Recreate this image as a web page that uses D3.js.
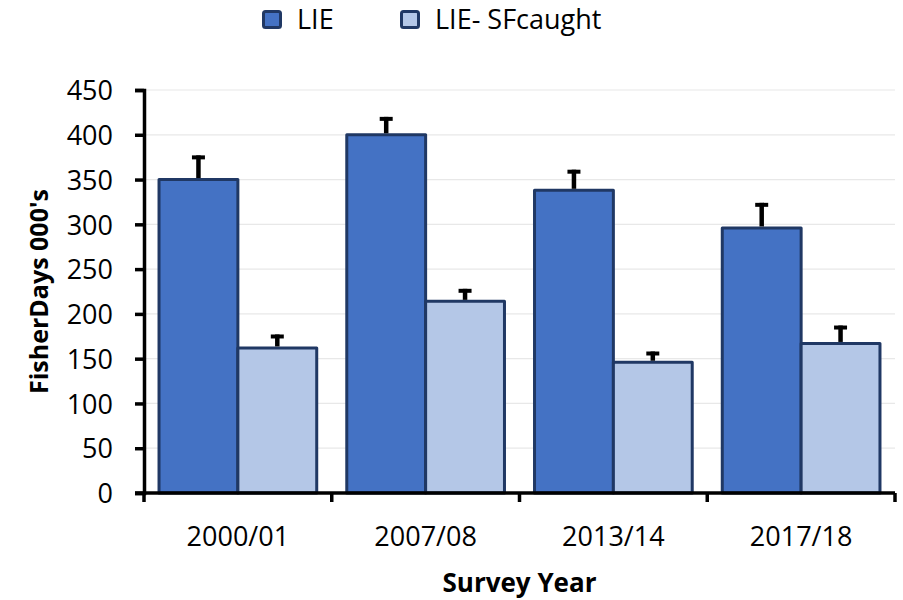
<!DOCTYPE html>
<html>
<head>
<meta charset="utf-8">
<script src="https://cdn.jsdelivr.net/npm/d3@7"></script>
<style>
  body { margin: 0; background: #fff; }
  text { font-family: "Open Sans", "Liberation Sans", sans-serif; fill: #000; }
</style>
</head>
<body>
<div id="chart"></div>
<script>
// data
var years = ["2000/01", "2007/08", "2013/14", "2017/18"];
var seriesNames = ["LIE", "LIE- SFcaught"];
var lieValues = [350, 400, 338, 296];
var lieErrors = [27, 20, 23, 28];
var sfValues = [162, 214, 146, 167];
var sfErrors = [15, 14, 12, 20];
var yTicks = [0, 50, 100, 150, 200, 250, 300, 350, 400, 450];

var colors = ["#4472C4", "#B4C7E7"];
var edge = "#203864";

var W = 903, H = 600;
var margin = { left: 144, right: 8, top: 90, bottom: 107 };
var plotW = W - margin.left - margin.right;
var plotH = H - margin.top - margin.bottom;

var svg = d3.select("#chart").append("svg")
    .attr("width", W)
    .attr("height", H);

var g = svg.append("g")
    .attr("transform", "translate(" + margin.left + "," + margin.top + ")");

var x0 = d3.scaleBand().domain(years).range([0, plotW]).paddingInner(0.16).paddingOuter(0.08);
var x1 = d3.scaleBand().domain([0, 1]).range([0, x0.bandwidth()]);
var y = d3.scaleLinear().domain([0, 450]).range([plotH, 0]);

// gridlines
g.selectAll(".grid")
    .data(yTicks.slice(1))
    .enter().append("line")
    .attr("x1", 0).attr("x2", plotW)
    .attr("y1", function (d) { return y(d); })
    .attr("y2", function (d) { return y(d); })
    .attr("stroke", "#e8e8e8")
    .attr("stroke-width", 1.2);

// bars + error bars, one group per year
var rows = years.map(function (yr, i) {
    return [
        { year: yr, s: 0, v: lieValues[i], e: lieErrors[i] },
        { year: yr, s: 1, v: sfValues[i], e: sfErrors[i] }
    ];
});

var grp = g.selectAll(".year")
    .data(rows)
    .enter().append("g")
    .attr("transform", function (d) { return "translate(" + x0(d[0].year) + ",0)"; });

grp.selectAll("rect")
    .data(function (d) { return d; })
    .enter().append("rect")
    .attr("x", function (d) { return x1(d.s); })
    .attr("y", function (d) { return y(d.v); })
    .attr("width", x1.bandwidth())
    .attr("height", function (d) { return plotH - y(d.v); })
    .attr("fill", function (d) { return colors[d.s]; })
    .attr("stroke", edge)
    .attr("stroke-width", 3)
    .attr("stroke-linejoin", "round");

var errs = grp.selectAll(".err")
    .data(function (d) { return d; })
    .enter().append("g");

errs.append("line")
    .attr("x1", function (d) { return x1(d.s) + x1.bandwidth() / 2; })
    .attr("x2", function (d) { return x1(d.s) + x1.bandwidth() / 2; })
    .attr("y1", function (d) { return y(d.v) - 1.5; })
    .attr("y2", function (d) { return y(d.v + d.e); })
    .attr("stroke", "#000")
    .attr("stroke-width", 4.5);

errs.append("line")
    .attr("x1", function (d) { return x1(d.s) + x1.bandwidth() / 2 - 6.5; })
    .attr("x2", function (d) { return x1(d.s) + x1.bandwidth() / 2 + 6.5; })
    .attr("y1", function (d) { return y(d.v + d.e) + 2; })
    .attr("y2", function (d) { return y(d.v + d.e) + 2; })
    .attr("stroke", "#000")
    .attr("stroke-width", 4);

// y axis
var yAxis = g.append("g")
    .call(d3.axisLeft(y).tickValues(yTicks).tickSize(9).tickPadding(22));
yAxis.select(".domain").attr("stroke", "#000").attr("stroke-width", 3.5);
yAxis.selectAll(".tick line").attr("stroke", "#000").attr("stroke-width", 3.5);
yAxis.selectAll(".tick text")
    .style("font-family", '"Open Sans", sans-serif')
    .style("font-size", "27px")
    .attr("dy", "0.36em");

// x axis - ticks sit at band boundaries
var bounds = years.map(function (d, i) {
    return i === 0 ? 0 : x0(d) - x0.step() * x0.paddingInner() / 2;
});
bounds.push(plotW);
var xAx = g.append("g").attr("transform", "translate(0," + plotH + ")");
xAx.append("line")
    .attr("x1", -9).attr("x2", plotW)
    .attr("stroke", "#000").attr("stroke-width", 3.5);
xAx.selectAll(".xt")
    .data(bounds)
    .enter().append("line")
    .attr("x1", function (d) { return d; })
    .attr("x2", function (d) { return d; })
    .attr("y1", 0).attr("y2", 9)
    .attr("stroke", "#000").attr("stroke-width", 3.5);
xAx.selectAll(".xl")
    .data(years)
    .enter().append("text")
    .attr("x", function (d) { return x0(d) + x0.bandwidth() / 2; })
    .attr("y", 53)
    .attr("text-anchor", "middle")
    .style("font-size", "27px")
    .text(function (d) { return d; });

// axis titles
svg.append("text")
    .attr("transform", "translate(48," + (margin.top + plotH / 2) + ") rotate(-90)")
    .attr("text-anchor", "middle")
    .style("font-size", "25px")
    .style("font-weight", "bold")
    .text("FisherDays 000's");

svg.append("text")
    .attr("x", margin.left + plotW / 2)
    .attr("y", 592)
    .attr("text-anchor", "middle")
    .style("font-size", "26px")
    .style("font-weight", "bold")
    .text("Survey Year");

// legend
var legX = [262, 400];
var leg = svg.selectAll(".leg")
    .data(seriesNames)
    .enter().append("g")
    .attr("transform", function (d, i) { return "translate(" + legX[i] + ",10)"; });
leg.append("rect")
    .attr("x", 1.5).attr("y", 1.5)
    .attr("width", 17).attr("height", 16)
    .attr("rx", 2)
    .attr("fill", function (d, i) { return colors[i]; })
    .attr("stroke", edge)
    .attr("stroke-width", 3);
leg.append("text")
    .attr("x", 35)
    .attr("y", 19)
    .style("font-size", "27px")
    .text(function (d) { return d; });
</script>
</body>
</html>
